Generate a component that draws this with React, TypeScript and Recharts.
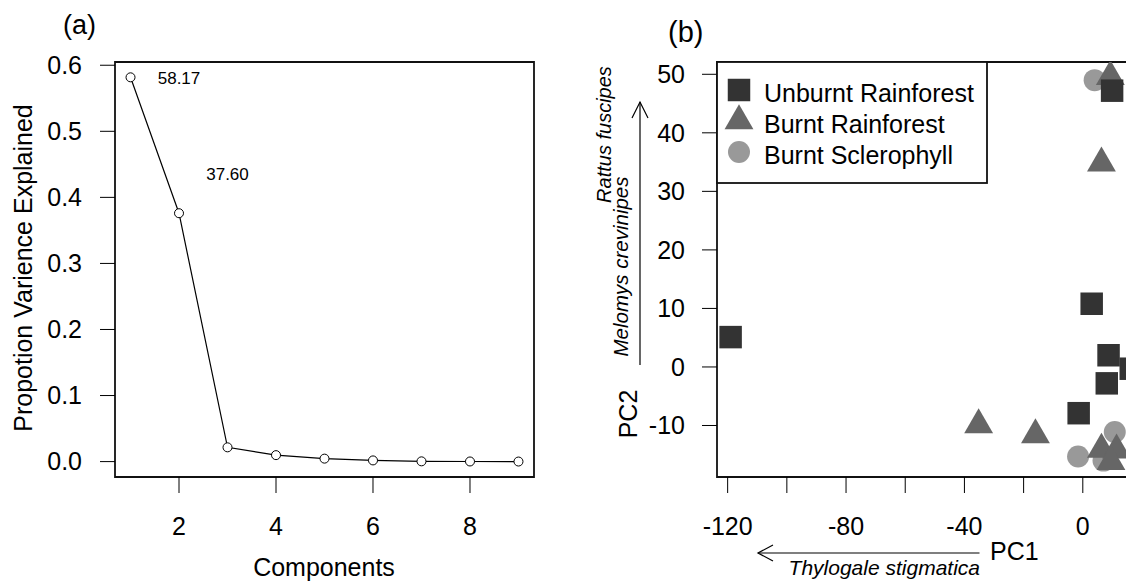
import React from 'react';
import {
  ComposedChart,
  Line,
  XAxis,
  YAxis,
  ReferenceArea,
  ReferenceDot,
  ScatterChart,
  Scatter,
  Symbols,
} from 'recharts';

const FONT = '"Liberation Sans", Arial, Helvetica, sans-serif';

// (a) scree plot
const components = [1, 2, 3, 4, 5, 6, 7, 8, 9];
const propVariance = [0.5817, 0.376, 0.0216, 0.0098, 0.0045, 0.0018, 0.0004, 0.0002, 0.0001];
const pctText = ['58.17', '37.60'];
const pctX = [2, 3];
const pctY = [0.58, 0.435];
const screeXTicks = [2, 4, 6, 8];
const screeYTicks = [0, 0.1, 0.2, 0.3, 0.4, 0.5, 0.6];

// (b) PCA scores by habitat
const unburntRfPC1 = [-119, 3, -1.4, 8.7, 8.1, 16.2, 9.9];
const unburntRfPC2 = [5.1, 10.8, -7.9, 2.0, -2.8, -0.3, 47.2];
const burntRfPC1 = [-35.2, -16, 6.3, 9.3, 6.3, 11.4, 9.5];
const burntRfPC2 = [-9.9, -11.6, 34.8, 49.6, -14.1, -14.2, -16.2];
const burntSclPC1 = [4, -1.6, 10.8, 7];
const burntSclPC2 = [49, -15.3, -11.1, -16];
const pcaXTicks = [-120, -100, -80, -60, -40, -20, 0];
const pcaYTicks = [-10, 0, 10, 20, 30, 40, 50];

const screeRows = components.map((c, i) => ({ comp: c, pv: propVariance[i] }));
const toPoints = (xs: number[], ys: number[]) => xs.map((x, i) => ({ x, y: ys[i] }));

type Group = { name: string; type: 'square' | 'triangle' | 'circle'; color: string; size: number; data: { x: number; y: number }[] };

const groups: Group[] = [
  { name: 'Unburnt Rainforest', type: 'square', color: '#333333', size: 506, data: toPoints(unburntRfPC1, unburntRfPC2) },
  { name: 'Burnt Rainforest', type: 'triangle', color: '#666666', size: 361, data: toPoints(burntRfPC1, burntRfPC2) },
  { name: 'Burnt Sclerophyll', type: 'circle', color: '#999999', size: 380, data: toPoints(burntSclPC1, burntSclPC2) },
];

const screeX: [number, number] = [0.68, 9.32];
const screeY: [number, number] = [-0.0233, 0.6049];
const pcaX: [number, number] = [-123.6, 20];
const pcaY: [number, number] = [-18.8, 52.1];

const tickStyle = { fill: '#000', fontSize: 25, fontFamily: FONT };

export default function App() {
  // squares drawn last, as in the original
  const drawOrder = [groups[2], groups[1], groups[0]];

  return (
    <div style={{ position: 'absolute', left: 0, top: 0, width: 1126, height: 586, overflow: 'hidden', background: '#fff', fontFamily: FONT }}>
      <div style={{ position: 'absolute', left: 0, top: 0 }}>
        <ComposedChart width={560} height={586} data={screeRows} margin={{ top: 62, right: 26, bottom: 0, left: 0 }}>
          <XAxis
            dataKey="comp"
            type="number"
            domain={screeX}
            ticks={screeXTicks}
            allowDataOverflow
            height={109}
            axisLine={false}
            tickLine={{ stroke: '#000' }}
            tickSize={16}
            tickMargin={24}
            tick={tickStyle}
            interval={0}
          />
          <YAxis
            type="number"
            domain={screeY}
            ticks={screeYTicks}
            allowDataOverflow
            width={115}
            axisLine={false}
            tickLine={{ stroke: '#000' }}
            tickSize={15}
            tickMargin={18}
            tick={tickStyle}
            interval={0}
            tickFormatter={(v: number) => v.toFixed(1)}
          />
          <ReferenceArea x1={screeX[0]} x2={screeX[1]} y1={screeY[0]} y2={screeY[1]} fill="none" stroke="#111" strokeWidth={1.8} />
          <Line
            dataKey="pv"
            stroke="#000"
            strokeWidth={1.2}
            dot={{ r: 4.5, stroke: '#000', strokeWidth: 1, fill: '#fff' }}
            isAnimationActive={false}
          />
          {pctText.map((t, i) => (
            <ReferenceDot
              key={t}
              x={pctX[i]}
              y={pctY[i]}
              r={1}
              fill="none"
              stroke="none"
              label={{ value: t, position: 'center', fontSize: 17, fill: '#000', fontFamily: FONT }}
            />
          ))}
        </ComposedChart>
      </div>

      <div style={{ position: 'absolute', left: 560, top: 0, width: 566, height: 586, overflow: 'hidden' }}>
        <ScatterChart width={600} height={586} margin={{ top: 62, right: 18, bottom: 0, left: 0 }}>
          <XAxis
            dataKey="x"
            type="number"
            domain={pcaX}
            ticks={pcaXTicks}
            allowDataOverflow
            height={109}
            axisLine={false}
            tickLine={{ stroke: '#000' }}
            tickSize={16}
            tickMargin={24}
            tick={tickStyle}
            interval={0}
            tickFormatter={(v: number) => (v % 40 === 0 ? String(v) : '')}
          />
          <YAxis
            dataKey="y"
            type="number"
            domain={pcaY}
            ticks={pcaYTicks}
            allowDataOverflow
            width={157}
            axisLine={false}
            tickLine={{ stroke: '#000' }}
            tickSize={15}
            tickMargin={17}
            tick={tickStyle}
            interval={0}
          />
          <ReferenceArea x1={pcaX[0]} x2={pcaX[1]} y1={pcaY[0]} y2={pcaY[1]} fill="none" stroke="#111" strokeWidth={1.8} />
          {drawOrder.map((g) => (
            <Scatter
              key={g.name}
              name={g.name}
              data={g.data}
              isAnimationActive={false}
              shape={(p: any) => <Symbols cx={p.cx} cy={p.cy} type={g.type} size={g.size} fill={g.color} />}
            />
          ))}
        </ScatterChart>
      </div>

      {/* panel letters, axis titles, species arrows and legend */}
      <svg width={1126} height={586} style={{ position: 'absolute', left: 0, top: 0, pointerEvents: 'none' }} fontFamily={FONT}>
        <text x={63} y={34} fontSize={27} fill="#000">(a)</text>
        <text x={668} y={42} fontSize={29} fill="#000">(b)</text>

        <text x={324} y={576} fontSize={25} fill="#000" textAnchor="middle">Components</text>
        <text x={32} y={268} fontSize={25} fill="#000" textAnchor="middle" transform="rotate(-90 32 268)">
          Propotion Varience Explained
        </text>

        <text x={990} y={560} fontSize={25} fill="#000">PC1</text>
        <text x={637} y={414} fontSize={25} fill="#000" textAnchor="middle" transform="rotate(-90 637 414)">PC2</text>

        <line x1={979.5} y1={553} x2={758} y2={553} stroke="#000" strokeWidth={1.2} />
        <polyline points="773,545 758,553 773,561" fill="none" stroke="#000" strokeWidth={1.2} />
        <text x={980} y={575} fontSize={21} fontStyle="italic" fill="#000" textAnchor="end">Thylogale stigmatica</text>

        <line x1={640} y1={365} x2={640} y2={102} stroke="#000" strokeWidth={1.2} />
        <polyline points="632,118 640,102 648,118" fill="none" stroke="#000" strokeWidth={1.2} />
        <text x={611} y={134.5} fontSize={20} fontStyle="italic" fill="#000" textAnchor="middle" transform="rotate(-90 611 134.5)">
          Rattus fuscipes
        </text>
        <text x={628} y={266.5} fontSize={20.5} fontStyle="italic" fill="#000" textAnchor="middle" transform="rotate(-90 628 266.5)">
          Melomys crevinipes
        </text>

        <rect x={717} y={62} width={270} height={121} fill="#fff" stroke="#111" strokeWidth={1.8} />
        {groups.map((g, i) => (
          <g key={g.name}>
            <Symbols cx={739} cy={90 + i * 31} type={g.type} size={g.size} fill={g.color} />
            <text x={764} y={102 + i * 31} fontSize={25} fill="#000">{g.name}</text>
          </g>
        ))}
      </svg>
    </div>
  );
}
